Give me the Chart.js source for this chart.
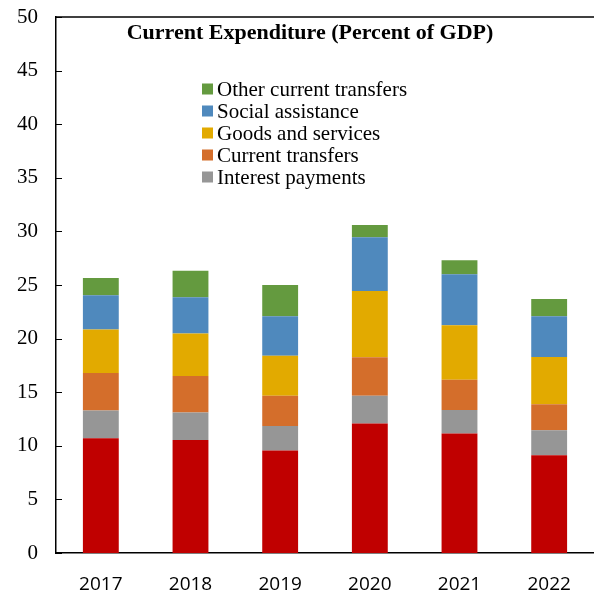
<!DOCTYPE html>
<html>
<head>
<meta charset="utf-8">
<script src="https://cdn.jsdelivr.net/npm/chart.js@4.4.1/dist/chart.umd.min.js"></script>
<style>
html,body{margin:0;padding:0;background:#fff;}
#wrap{position:relative;width:594px;height:596px;}
</style>
</head>
<body>
<div id="wrap"><canvas id="c" width="594" height="596"></canvas></div>
<script>
const years = ["2017","2018","2019","2020","2021","2022"];
const wages = [10.7, 10.55, 9.57, 12.07, 11.15, 9.13];
const interestPayments = [2.6, 2.55, 2.28, 2.6, 2.2, 2.32];
const currentTransfers = [3.5, 3.4, 2.82, 3.58, 2.82, 2.43];
const goodsAndServices = [4.05, 3.97, 3.73, 6.2, 5.08, 4.4];
const socialAssistance = [3.2, 3.38, 3.68, 5.0, 4.75, 3.8];
const otherCurrentTransfers = [1.6, 2.48, 2.92, 1.15, 1.3, 1.62];
const yTicks = [0,5,10,15,20,25,30,35,40,45,50];

const series = [
  {label: "", data: wages, color: "#C00000", legend: false},
  {label: "Interest payments", data: interestPayments, color: "#969696", legend: true},
  {label: "Current transfers", data: currentTransfers, color: "#D46E2B", legend: true},
  {label: "Goods and services", data: goodsAndServices, color: "#E2AA00", legend: true},
  {label: "Social assistance", data: socialAssistance, color: "#4F89BD", legend: true},
  {label: "Other current transfers", data: otherCurrentTransfers, color: "#649A3F", legend: true}
];

const overlay = {
  id: "overlay",
  afterDraw(chart) {
    const ctx = chart.ctx;
    const a = chart.chartArea;
    const ys = chart.scales.y;
    ctx.save();
    ctx.strokeStyle = "#000";
    ctx.lineWidth = 1;
    yTicks.forEach(v => {
      const y = Math.round(ys.getPixelForValue(v)) + 0.5;
      ctx.beginPath();
      ctx.moveTo(a.left, y);
      ctx.lineTo(a.left + 6, y);
      ctx.stroke();
    });
    ctx.lineWidth = 1.5;
    ctx.beginPath();
    ctx.moveTo(a.left, a.top);
    ctx.lineTo(chart.width, a.top);
    ctx.stroke();
    ctx.fillStyle = "#000";
    ctx.font = "bold 22px 'Liberation Serif', 'Times New Roman', serif";
    ctx.textAlign = "center";
    ctx.textBaseline = "middle";
    ctx.fillText("Current Expenditure (Percent of GDP)", 310, 33);
    ctx.font = "21px 'Liberation Serif', 'Times New Roman', serif";
    ctx.textAlign = "left";
    const items = series.filter(s => s.legend).slice().reverse();
    items.forEach((s, i) => {
      const cy = 89 + i * 22;
      ctx.fillStyle = s.color;
      ctx.fillRect(202, cy - 5.5, 11, 11);
      ctx.fillStyle = "#000";
      ctx.fillText(s.label, 217, cy + 1);
    });
    ctx.restore();
  }
};

new Chart(document.getElementById("c"), {
  type: "bar",
  data: {
    labels: years,
    datasets: series.map(s => ({
      label: s.label,
      data: s.data,
      backgroundColor: s.color,
      borderWidth: 0,
      categoryPercentage: 1.0,
      barPercentage: 0.4
    }))
  },
  options: {
    responsive: false,
    animation: false,
    devicePixelRatio: 1,
    layout: {padding: {top: 17, right: -3, left: 0, bottom: 0}},
    plugins: {legend: {display: false}, tooltip: {enabled: false}, title: {display: false}},
    scales: {
      x: {
        stacked: true,
        grid: {display: false, drawTicks: false},
        border: {display: true, color: "#000", width: 1.5},
        ticks: {
          color: "#000",
          padding: 20,
          font: {family: "'Open Sans', 'DejaVu Sans', sans-serif", size: 19}
        },
        afterFit(s) { s.height = 43; s.paddingLeft = 0; s.paddingRight = 0; }
      },
      y: {
        stacked: true,
        min: 0,
        max: 50,
        afterBuildTicks(s) { s.ticks = yTicks.map(v => ({value: v})); },
        grid: {display: false, drawTicks: false},
        border: {display: true, color: "#000", width: 1.5},
        ticks: {
          color: "#000",
          padding: 18,
          font: {family: "'Liberation Serif', 'Times New Roman', serif", size: 21}
        },
        afterFit(s) { s.width = 56; s.paddingTop = 0; s.paddingBottom = 0; }
      }
    }
  },
  plugins: [overlay]
});
</script>
</body>
</html>
